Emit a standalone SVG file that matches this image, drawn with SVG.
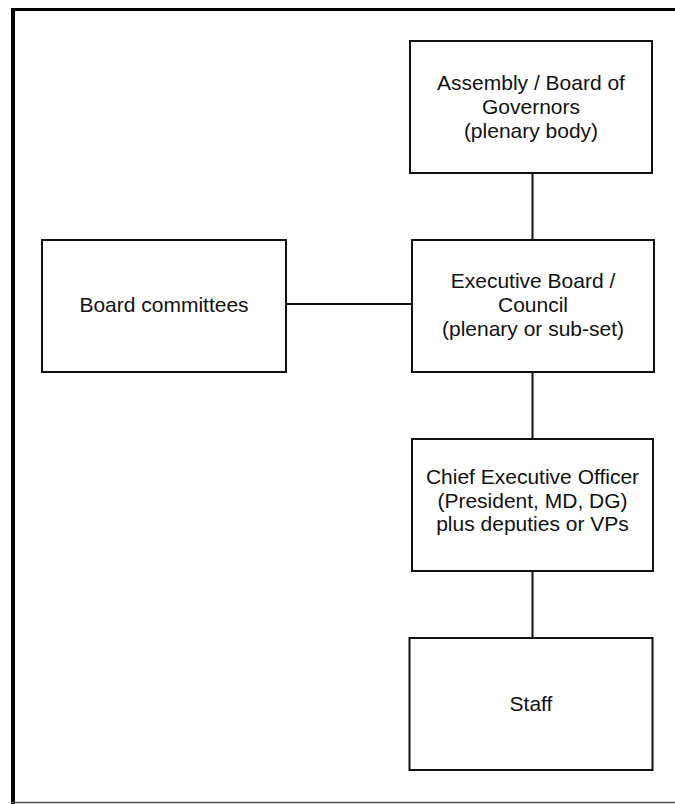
<svg xmlns="http://www.w3.org/2000/svg" width="675" height="804" viewBox="0 0 675 804">
<style>
.box{fill:#fff;stroke:#111;stroke-width:2}
.conn{stroke:#111;stroke-width:2;fill:none}
.lbl{font-family:"Liberation Sans",Arial,sans-serif;font-size:21px;fill:#111;text-anchor:middle}
</style>
<rect width="675" height="804" fill="#fff"/>
<g id="frame">
<line x1="11" y1="9.5" x2="675" y2="9.5" stroke="#000" stroke-width="3"/>
<line x1="13" y1="8" x2="13" y2="804" stroke="#000" stroke-width="4"/>
<line x1="11" y1="802.5" x2="675" y2="802.5" stroke="#555" stroke-width="1.5"/>
</g>
<g id="connectors">
<line class="conn" x1="532.5" y1="173" x2="532.5" y2="240"/>
<line class="conn" x1="532.5" y1="372" x2="532.5" y2="439"/>
<line class="conn" x1="532.5" y1="571" x2="532.5" y2="638"/>
<line class="conn" x1="286" y1="304" x2="412" y2="304"/>
</g>
<g id="assembly">
<rect class="box" x="410" y="41" width="242" height="132"/>
<text class="lbl" x="531" y="90">Assembly / Board of</text>
<text class="lbl" x="531" y="114">Governors</text>
<text class="lbl" x="531" y="138">(plenary body)</text>
</g>
<g id="committees">
<rect class="box" x="42" y="240" width="244" height="132"/>
<text class="lbl" x="164" y="312">Board committees</text>
</g>
<g id="executive">
<rect class="box" x="412" y="240" width="242" height="132"/>
<text class="lbl" x="533" y="288">Executive Board /</text>
<text class="lbl" x="533" y="312">Council</text>
<text class="lbl" x="533" y="336">(plenary or sub-set)</text>
</g>
<g id="ceo">
<rect class="box" x="412" y="439" width="241" height="132"/>
<text class="lbl" x="532.5" y="484">Chief Executive Officer</text>
<text class="lbl" x="532.5" y="508">(President, MD, DG)</text>
<text class="lbl" x="532.5" y="531">plus deputies or VPs</text>
</g>
<g id="staff">
<rect class="box" x="409.5" y="638" width="243" height="132"/>
<text class="lbl" x="531" y="711">Staff</text>
</g>
</svg>
